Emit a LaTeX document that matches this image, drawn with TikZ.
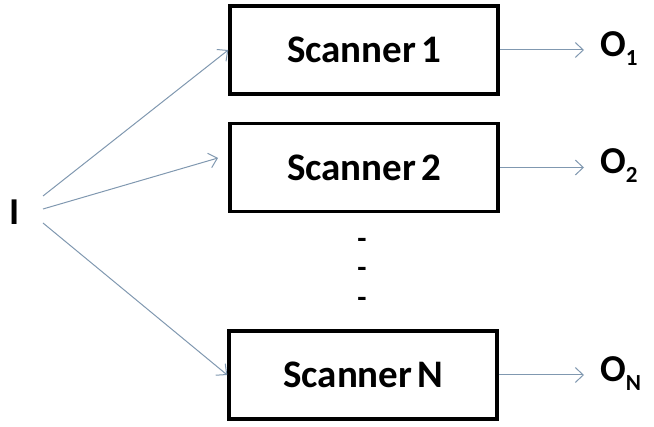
\documentclass[tikz,border=0pt]{standalone}
\usepackage{fontspec}
\setmainfont{Carlito}
\usetikzlibrary{arrows.meta}
\definecolor{arrowc}{RGB}{128,152,176}
\begin{document}
\begin{tikzpicture}[x=1pt,y=-1pt,
  scanbox/.style={draw=black,line width=3.5pt,minimum width=268pt,minimum height=88pt,inner sep=0pt,font=\fontsize{39}{39}\selectfont\bfseries},
  conn/.style={draw=arrowc,line width=1pt,-{Straight Barb[length=8pt,width=15pt,line width=1pt]}},
  lbl/.style={font=\fontsize{38}{38}\selectfont\bfseries,inner sep=0pt},
  dotn/.style={font=\fontsize{30}{30}\selectfont\bfseries,inner sep=0pt}]
\useasboundingbox (0,0) rectangle (654,427);
\node[scanbox] (b1) at (364,50) {Scanner\kern-4pt\ 1};
\node[scanbox] (b2) at (364,167.5) {Scanner\kern-4pt\ 2};
\node[scanbox] (bN) at (363,375) {Scanner\kern-4pt\ N};
\node[lbl] (I) at (15,212) {I};
\coordinate (i1) at (43,196);
\coordinate (i2) at (43,209);
\coordinate (i3) at (43,223);
\coordinate (e2) at (218,158);
\draw[conn] (i1) -- (b1.west);
\draw[conn] (i2) -- (e2);
\draw[conn] (i3) -- (bN.west);
\coordinate (o1e) at (584,50);
\coordinate (o2e) at (584,167.5);
\coordinate (oNe) at (584,375);
\draw[conn] (b1.east) -- (o1e);
\draw[conn] (b2.east) -- (o2e);
\draw[conn] (bN.east) -- (oNe);
\node[lbl,anchor=west] (O1) at (600,49) {O\raisebox{-9pt}{\fontsize{23}{23}\selectfont 1}};
\node[lbl,anchor=west] (O2) at (600,166) {O\raisebox{-9pt}{\fontsize{23}{23}\selectfont 2}};
\node[lbl,anchor=west] (ON) at (600,374) {O\raisebox{-9pt}{\fontsize{23}{23}\selectfont N}};
\node[dotn] (d1) at (362,243) {-};
\node[dotn] (d2) at (362,272) {-};
\node[dotn] (d3) at (362,302) {-};
\end{tikzpicture}
\end{document}
